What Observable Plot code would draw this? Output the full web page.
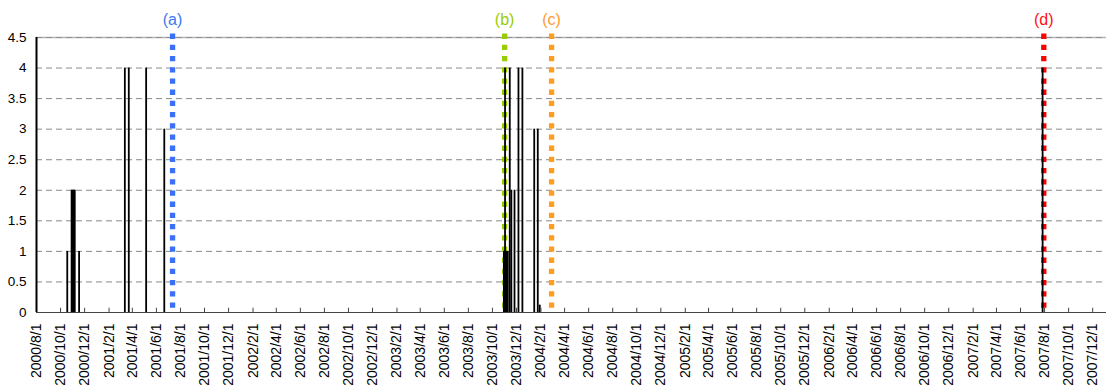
<!DOCTYPE html>
<html><head><meta charset="utf-8">
<script src="https://cdn.jsdelivr.net/npm/d3@7"></script>
<script src="https://cdn.jsdelivr.net/npm/@observablehq/plot@0.6"></script>
<style>body{margin:0;background:#fff} svg{display:block}</style>
</head><body><div id="chart"></div>
<script>
const barDates = [
  "2000-10-18","2000-10-29","2000-10-31","2000-11-02","2000-11-04","2000-11-06","2000-11-17",
  "2001-03-13","2001-03-23","2001-05-06","2001-06-21",
  "2003-10-30","2003-11-02","2003-11-03","2003-11-05","2003-11-07","2003-11-09",
  "2003-11-14","2003-11-18","2003-11-26","2003-12-06","2003-12-16",
  "2004-01-15","2004-01-24","2004-01-29",
  "2007-07-27"
];
const barValues = [
  1,2,2,2,2,2,1,
  4,4,4,3,
  1,4,1,1,1,1,
  4,2,2,4,4,
  3,3,0.12,
  4
];
const eventDates = ["2001-07-12","2003-11-01","2004-02-28","2007-07-30"];
const eventLabels = ["(a)","(b)","(c)","(d)"];
const eventColors = ["#3a6ff7","#99cc00","#ff9d1f","#ff0000"];
const labelColors = ["#3a78f2","#99cc00","#ff9933","#ff1010"];
const yTicks = [0,0.5,1,1.5,2,2.5,3,3.5,4,4.5];
const xTickLabels = [
  "2000-08-01","2000-10-01","2000-12-01",
  "2001-02-01","2001-04-01","2001-06-01","2001-08-01","2001-10-01","2001-12-01",
  "2002-02-01","2002-04-01","2002-06-01","2002-08-01","2002-10-01","2002-12-01",
  "2003-02-01","2003-04-01","2003-06-01","2003-08-01","2003-10-01","2003-12-01",
  "2004-02-01","2004-04-01","2004-06-01","2004-08-01","2004-10-01","2004-12-01",
  "2005-02-01","2005-04-01","2005-06-01","2005-08-01","2005-10-01","2005-12-01",
  "2006-02-01","2006-04-01","2006-06-01","2006-08-01","2006-10-01","2006-12-01",
  "2007-02-01","2007-04-01","2007-06-01","2007-08-01","2007-10-01","2007-12-01"
];

const bars = barDates.map((d, i) => ({date: new Date(d), value: barValues[i]}));
const events = eventDates.map((d, i) => ({date: new Date(d), label: eventLabels[i], color: eventColors[i], lcolor: labelColors[i]}));
const xTicks = xTickLabels.map(d => new Date(d));
const fmt = d3.utcFormat("%Y/%-m/%-d");
const font = "'Liberation Sans', Arial, sans-serif";

const chart = Plot.plot({
  width: 1106, height: 390,
  marginLeft: 36, marginRight: 0, marginTop: 37, marginBottom: 78,
  style: {fontFamily: font, fontSize: "13px", color: "#000", background: "#fff", overflow: "visible"},
  x: {type: "utc", domain: [new Date("2000-08-01"), new Date("2008-01-05")], label: null},
  y: {domain: [0, 4.5], label: null},
  color: {type: "identity"},
  marks: [
    Plot.ruleY(yTicks.filter(v => v > 0 && v < 4.5), {stroke: "#8a8a8a", strokeDasharray: "6,4", strokeWidth: 1}),
    Plot.ruleY([4.5], {stroke: "#b4b4b4", strokeWidth: 1.5}),
    Plot.ruleY([4.5], {stroke: "#8f8f8f", strokeDasharray: "6,4", strokeWidth: 1}),
    Plot.ruleX(events, {x: "date", y1: 0.07, y2: 4.56, stroke: "color", strokeWidth: 5.3, strokeDasharray: "5.3,5.9"}),
    Plot.ruleX(bars, {x: "date", y1: 0, y2: "value", stroke: "#000", strokeWidth: 1.8}),
    Plot.text(events, {x: "date", y: 4.5, dy: -18, text: "label", fill: "lcolor", fontSize: 16}),
    Plot.ruleX(xTicks, {x: d => d, y1: 0, y2: 0.07, stroke: "#444", strokeWidth: 1}),
    Plot.ruleY([0], {stroke: "#444", strokeWidth: 1.2}),
    Plot.ruleX([new Date("2000-08-01")], {y1: 0, y2: 4.5, stroke: "#000", strokeWidth: 2}),
    Plot.axisY({ticks: yTicks, tickSize: 0, tickPadding: 10, tickFormat: d => String(d), fontSize: 13.5, label: null}),
    Plot.axisX({ticks: xTicks, tickSize: 0, tickPadding: 11, tickRotate: -90, tickFormat: fmt, fontSize: 14, label: null})
  ]
});
document.getElementById("chart").appendChild(chart);
</script>
</body></html>
